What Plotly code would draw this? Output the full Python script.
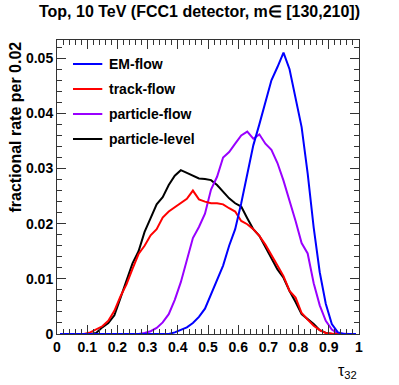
import plotly.graph_objects as go

# bin centres, width 0.02
tau32 = [round(0.01 + 0.02 * i, 2) for i in range(50)]

em_flow = [0]*19 + [0.0003, 0.0007, 0.0012, 0.0020, 0.0031, 0.0046, 0.0072, 0.0097, 0.0124,
                    0.0160, 0.0190, 0.0237, 0.0293, 0.0342, 0.0380, 0.0420, 0.0460, 0.0484,
                    0.0510, 0.0480, 0.0428, 0.0375, 0.0291, 0.0193, 0.0112, 0.0055, 0.0018,
                    0.0003, 0, 0, 0]
track_flow = [0]*5 + [0.0003, 0.0008, 0.0014, 0.0024, 0.0042, 0.0068, 0.0090, 0.0118, 0.0145,
                      0.0160, 0.0179, 0.0190, 0.0211, 0.0222, 0.0230, 0.0237, 0.0245, 0.0260,
                      0.0244, 0.0240, 0.0237, 0.0237, 0.0235, 0.0228, 0.0222, 0.0205, 0.0199,
                      0.0190, 0.0178, 0.0162, 0.0142, 0.0124, 0.0105, 0.0078, 0.0066, 0.0038,
                      0.0026, 0.0015, 0.0007, 0.0002, 0.0001, 0, 0, 0, 0]
particle_flow = [0]*14 + [0.0002, 0.0005, 0.0011, 0.0021, 0.0036, 0.0062, 0.0094, 0.0132, 0.0174,
                          0.0194, 0.0218, 0.0262, 0.0285, 0.0320, 0.0330, 0.0345, 0.0360, 0.0367,
                          0.0354, 0.0362, 0.0345, 0.0334, 0.0310, 0.0278, 0.0243, 0.0205, 0.0165,
                          0.0146, 0.0092, 0.0052, 0.0024, 0.0008, 0.0001, 0, 0, 0]
particle_level = [0]*6 + [0.0002, 0.0012, 0.0020, 0.0034, 0.0065, 0.0098, 0.0128, 0.0150, 0.0185,
                          0.0210, 0.0235, 0.0248, 0.0270, 0.0287, 0.0297, 0.0292, 0.0287, 0.0282,
                          0.0281, 0.0279, 0.0270, 0.0258, 0.0246, 0.0237, 0.0231, 0.0210, 0.0190,
                          0.0178, 0.0158, 0.0138, 0.0117, 0.0102, 0.0078, 0.0058, 0.0036, 0.0027,
                          0.0018, 0.0007, 0.0002, 0, 0, 0, 0, 0]

names = ["EM-flow", "track-flow", "particle-flow", "particle-level"]
colors = ["#0000ff", "#ff0000", "#9900ff", "#000000"]
series = [em_flow, track_flow, particle_flow, particle_level]

fnt = "Liberation Sans, Arial, sans-serif"
XR = [0, 1]
YR = [0, 0.0533]

fig = go.Figure()
# draw order: black under the others
for i in [3, 2, 1, 0]:
    fig.add_trace(go.Scatter(x=tau32, y=series[i], mode="lines", name=names[i],
                             line=dict(color=colors[i], width=2), showlegend=False))
# dummy trace so the mirrored top/right axes get drawn
fig.add_trace(go.Scatter(x=[None], y=[None], xaxis="x2", yaxis="y2", showlegend=False,
                         hoverinfo="skip"))

# hand-made legend like ROOT's TLegend
for k, (nm, c) in enumerate(zip(names, colors)):
    yy = 1 - (64 + 25 * k - 40) / 294
    fig.add_shape(type="line", xref="paper", yref="paper", x0=0.053, x1=0.15, y0=yy, y1=yy,
                  line=dict(color=c, width=2))
    fig.add_annotation(x=0.166, y=yy, xref="paper", yref="paper", text=nm, showarrow=False,
                       xanchor="left", yanchor="middle",
                       font=dict(family=fnt, size=14, color="black", weight="bold"))

fig.add_annotation(x=1.0, y=-(371 - 334) / 294, xref="paper", yref="paper",
                   text="τ<sub>32</sub>", showarrow=False, xanchor="right", yanchor="middle",
                   font=dict(family=fnt, size=16, color="black"))
fig.add_annotation(x=-(57 - 15) / 302, y=1.0, xref="paper", yref="paper",
                   text="fractional rate per 0.02", textangle=-90, showarrow=False,
                   xanchor="center", yanchor="top",
                   font=dict(family=fnt, size=16, color="black", weight="bold"))

tick_common = dict(showgrid=False, zeroline=False, showline=True, linecolor="#333", linewidth=1,
                   ticks="inside", tickcolor="#333", ticklen=9, tickwidth=1, automargin=False,
                   tickfont=dict(family=fnt, size=14, color="black", weight="bold"))

fig.update_layout(
    width=399, height=385,
    margin=dict(l=57, r=40, t=40, b=51, autoexpand=False),
    paper_bgcolor="white", plot_bgcolor="white",
    title=dict(text="Top, 10 TeV (FCC1 detector, m∈ [130,210])", x=0.5, xanchor="center",
               y=1 - 11 / 385, yanchor="middle",
               font=dict(family=fnt, size=16, color="black", weight="bold")),
    xaxis=dict(range=XR, dtick=0.1,
               minor=dict(dtick=0.02, ticks="inside", ticklen=5, tickcolor="#333"),
               **tick_common),
    yaxis=dict(range=YR, dtick=0.01,
               minor=dict(dtick=0.002, ticks="inside", ticklen=5, tickcolor="#333"),
               **tick_common),
    xaxis2=dict(range=XR, dtick=0.1, overlaying="x", side="top", showticklabels=False,
                minor=dict(dtick=0.02, ticks="inside", ticklen=5, tickcolor="#333"),
                **tick_common),
    yaxis2=dict(range=YR, dtick=0.01, overlaying="y", side="right", showticklabels=False,
                minor=dict(dtick=0.002, ticks="inside", ticklen=5, tickcolor="#333"),
                **tick_common),
)

# drop the browser's default 8px body margin so the figure sits at the window corner
fig.write_html("out.html", config={"displayModeBar": False},
               post_script="document.body.style.margin='0';")
